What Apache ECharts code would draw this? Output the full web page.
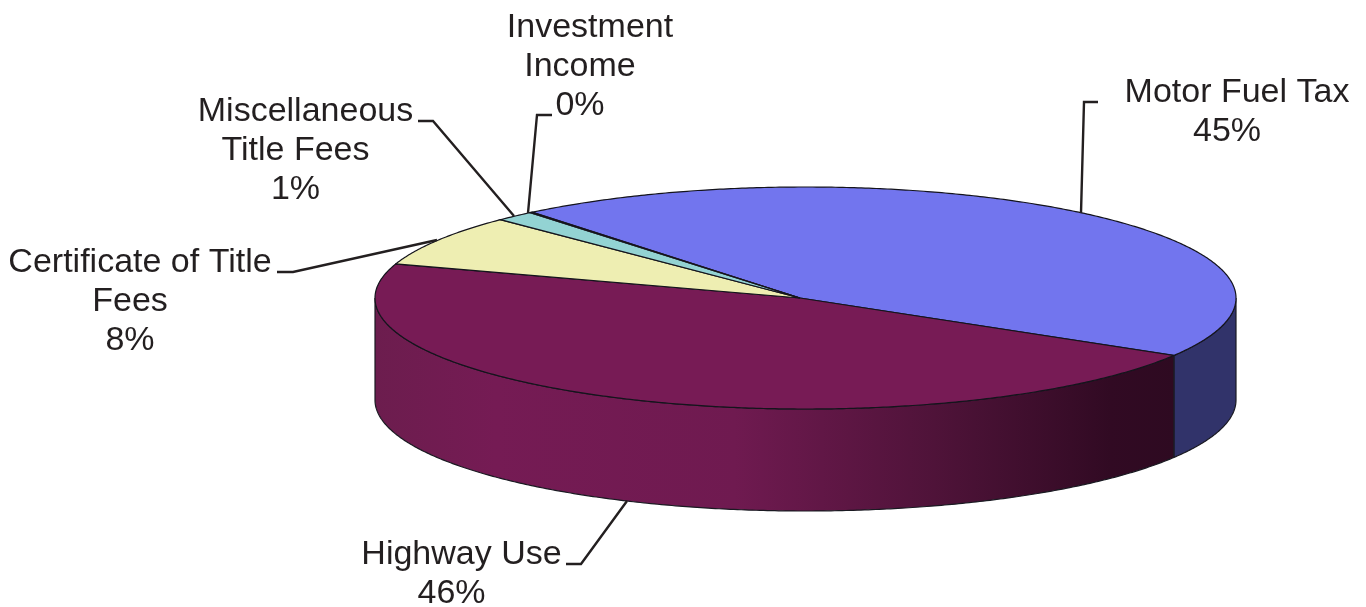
<!DOCTYPE html>
<html>
<head>
<meta charset="utf-8">
<script src="https://cdn.jsdelivr.net/npm/echarts@6/dist/echarts.min.js"></script>
<style>
    html, body { margin: 0; padding: 0; background: #fff; }
    #chart { width: 1366px; height: 607px; }
</style>
</head>
<body>
<div id="chart"></div>
<script>
// clockwise from the top-left edge of the blue slice
const categories = ['Motor Fuel Tax', 'Highway Use', 'Certificate of Title\nFees', 'Miscellaneous\nTitle Fees', 'Investment\nIncome'];
const shares = [44.6, 46.31, 7.5, 1.49, 0.1];

const topColors = ['#7275ee', '#771b55', '#eeeeb2', '#93d3d3', '#f0a0a0'];
const startAngle = -39.4;

// pie geometry, in pixels
const cx = 805.5, cy = 298, rx = 430.5, ry = 111, depth = 102;
const apexX = 800, apexY = 298;

// label position (centre x, first line y) and leader line for each slice
const labelPos = [[1237, 93], [461.5, 555], [140, 263], [305.5, 112], [590, 28]];
const leaders = [
    [[1081, 213], [1084, 102], [1098, 102]],
    [[627, 501], [581, 564], [566, 564]],
    [[437, 240], [293, 272], [277, 272]],
    [[514, 216], [433, 121], [418, 121]],
    [[528, 213], [537, 115], [552, 115]]
];
const lineHeight = 39;
// the original's first line sits a bit right of the lines under it
const restLineShift = -10;

const total = shares.reduce((a, b) => a + b, 0);

function rim(deg, dy) {
    const r = deg * Math.PI / 180;
    return [cx + rx * Math.sin(r), cy - ry * Math.cos(r) + (dy || 0)];
}

function arc(a0, a1, dy) {
    const pts = [];
    const n = Math.max(2, Math.ceil((a1 - a0) * 2));
    for (let i = 0; i <= n; i++) {
        pts.push(rim(a0 + (a1 - a0) * i / n, dy));
    }
    return pts;
}

function sideFill(i) {
    if (i === 0) return '#31336a';
    return new echarts.graphic.LinearGradient(375, 0, 1175, 0, [
        { offset: 0, color: '#6c1d4e' },
        { offset: 0.15, color: '#751b54' },
        { offset: 0.45, color: '#6f1a50' },
        { offset: 0.7, color: '#4f1339' },
        { offset: 0.92, color: '#310a23' },
        { offset: 1, color: '#2e0a21' }
    ], true);
}

function renderSlice(params, api) {
    const i = params.dataIndex;
    const before = shares.slice(0, i).reduce((a, b) => a + b, 0);
    const a0 = startAngle + before / total * 360;
    const a1 = a0 + api.value(1) / total * 360;
    const children = [];

    // outer wall, only the front half shows
    const s0 = Math.max(a0, 90), s1 = Math.min(a1, 270);
    if (s1 > s0) {
        const wall = arc(s0, s1, 0).concat(arc(s0, s1, depth).reverse());
        children.push({
            type: 'polygon',
            shape: { points: wall },
            style: { fill: sideFill(i), stroke: '#1a1a22', lineWidth: 1.2 }
        });
    }

    children.push({
        type: 'polygon',
        shape: { points: [[apexX, apexY]].concat(arc(a0, a1, 0)) },
        style: { fill: topColors[i], stroke: '#14141c', lineWidth: 1.2 }
    });

    children.push({
        type: 'polyline',
        shape: { points: leaders[i] },
        style: { fill: null, stroke: '#231f20', lineWidth: 2.4 }
    });

    const lines = categories[i].split('\n').concat(Math.round(api.value(1)) + '%');
    lines.forEach(function (t, k) {
        children.push({
            type: 'text',
            style: {
                text: t,
                x: labelPos[i][0] + (k > 0 ? restLineShift : 0),
                y: labelPos[i][1] + k * lineHeight,
                align: 'center',
                verticalAlign: 'middle',
                fontFamily: 'Liberation Sans',
                fontSize: 34,
                fill: '#231f20'
            }
        });
    });

    return { type: 'group', children: children };
}

const chart = echarts.init(document.getElementById('chart'));
chart.setOption({
    backgroundColor: '#fff',
    animation: false,
    series: [{
        type: 'custom',
        coordinateSystem: 'none',
        renderItem: renderSlice,
        data: categories.map((c, i) => [i, shares[i]])
    }]
});
</script>
</body>
</html>
